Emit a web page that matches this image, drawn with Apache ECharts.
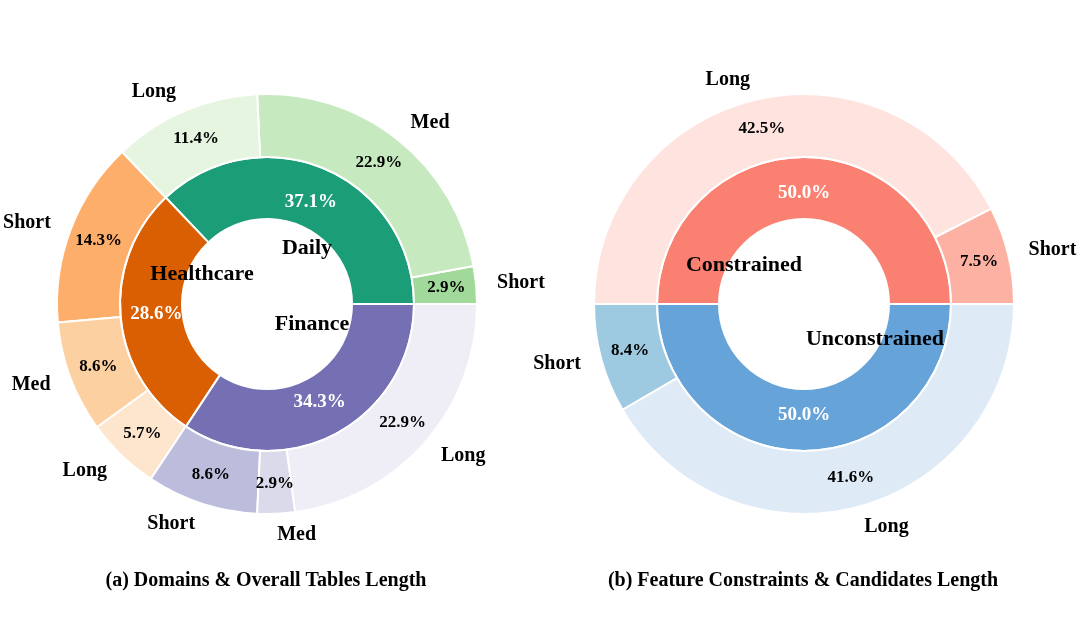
<!DOCTYPE html>
<html>
<head>
<meta charset="utf-8">
<script src="https://cdn.jsdelivr.net/npm/echarts@6/dist/echarts.min.js"></script>
<style>
  html, body { margin: 0; padding: 0; background: #fff; }
  #main { width: 1080px; height: 633px; }
</style>
</head>
<body>
<div id="main"></div>
<script>
// (a) 领域 & 表长度
var domains = ['Daily', 'Healthcare', 'Finance'];
var domainPct = [37.1, 28.6, 34.3];
var domainColors = ['#1b9e77', '#d95f02', '#7570b3'];
var lengthNamesA = ['Short', 'Med', 'Long', 'Short', 'Med', 'Long', 'Short', 'Med', 'Long'];
var lengthPctA = [2.9, 22.9, 11.4, 14.3, 8.6, 5.7, 8.6, 2.9, 22.9];
var lengthColorsA = ['#a1d99b', '#c7e9c0', '#e5f5e0', '#fdae6b', '#fdd0a2', '#fee6ce', '#bcbddc', '#dadaeb', '#efedf5'];

// (b) 约束 & 候选长度
var constraints = ['Constrained', 'Unconstrained'];
var constraintPct = [50.0, 50.0];
var constraintColors = ['#fa8072', '#66a3d9'];
var lengthNamesB = ['Short', 'Long', 'Short', 'Long'];
var lengthPctB = [7.5, 42.5, 8.4, 41.6];
var lengthColorsB = ['#fdb1a2', '#fee3de', '#9ecae1', '#deebf7'];

var serif = 'Liberation Serif, Times New Roman, serif';

function toData(names, vals, colors) {
    return names.map(function (n, i) {
        return { name: n, value: vals[i], itemStyle: colors ? { color: colors[i] } : undefined };
    });
}
function pctLabel(p) { return p.value.toFixed(1) + '%'; }

function base(center, radius, data) {
    return {
        type: 'pie', center: center, radius: radius,
        startAngle: 0, clockwise: false, silent: true,
        avoidLabelOverlap: false,
        data: data
    };
}
// 可见扇区
function ring(center, radius, data) {
    var s = base(center, radius, data);
    s.itemStyle = { borderColor: '#fff', borderWidth: 2 };
    s.label = { show: false };
    s.labelLine = { show: false };
    return s;
}
// 透明扇区，只放标签
function labelRing(center, radius, names, vals, label, lineLen) {
    var s = base(center, radius, toData(names, vals));
    s.itemStyle = { color: 'rgba(0,0,0,0)', borderWidth: 0 };
    s.label = Object.assign({ show: true, fontFamily: serif, fontWeight: 'bold' }, label);
    s.labelLine = { show: false, length: lineLen || 0, length2: 0 };
    return s;
}

var cA = [267, 304], cB = [804, 304];
var inner = [85, 147], outer = [147, 210];

function charts(c, innerNames, innerVals, innerColors, outerNames, outerVals, outerColors) {
    return [
        ring(c, inner, toData(innerNames, innerVals, innerColors)),
        ring(c, outer, toData(outerNames, outerVals, outerColors)),
        labelRing(c, [85, 131], innerNames, innerVals,
            { position: 'inside', formatter: pctLabel, color: '#fff', fontSize: 19 }),
        labelRing(c, [147, 207], outerNames, outerVals,
            { position: 'inside', formatter: pctLabel, color: '#000', fontSize: 17 }),
        labelRing(c, outer, outerNames, outerVals,
            { position: 'outside', formatter: '{b}', distanceToLabelLine: 0, color: '#000', fontSize: 20 }, 21)
    ];
}

function text(x, y, t, size) {
    return {
        type: 'text', x: x, y: y, z: 100, silent: true,
        style: { text: t, fill: '#000', font: 'bold ' + size + 'px ' + serif, textAlign: 'center', textVerticalAlign: 'middle' }
    };
}

var myChart = echarts.init(document.getElementById('main'));
var option = {
    animation: false,
    backgroundColor: '#fff',
    series: charts(cA, domains, domainPct, domainColors, lengthNamesA, lengthPctA, lengthColorsA)
        .concat(charts(cB, constraints, constraintPct, constraintColors, lengthNamesB, lengthPctB, lengthColorsB)),
    graphic: [
        text(307, 248, 'Daily', 22),
        text(202, 274, 'Healthcare', 22),
        text(312, 324, 'Finance', 22),
        text(744, 265, 'Constrained', 22),
        text(875, 339, 'Unconstrained', 22),
        text(266, 581, '(a) Domains & Overall Tables Length', 20),
        text(803, 581, '(b) Feature Constraints & Candidates Length', 20)
    ]
};
myChart.setOption(option);
</script>
</body>
</html>
